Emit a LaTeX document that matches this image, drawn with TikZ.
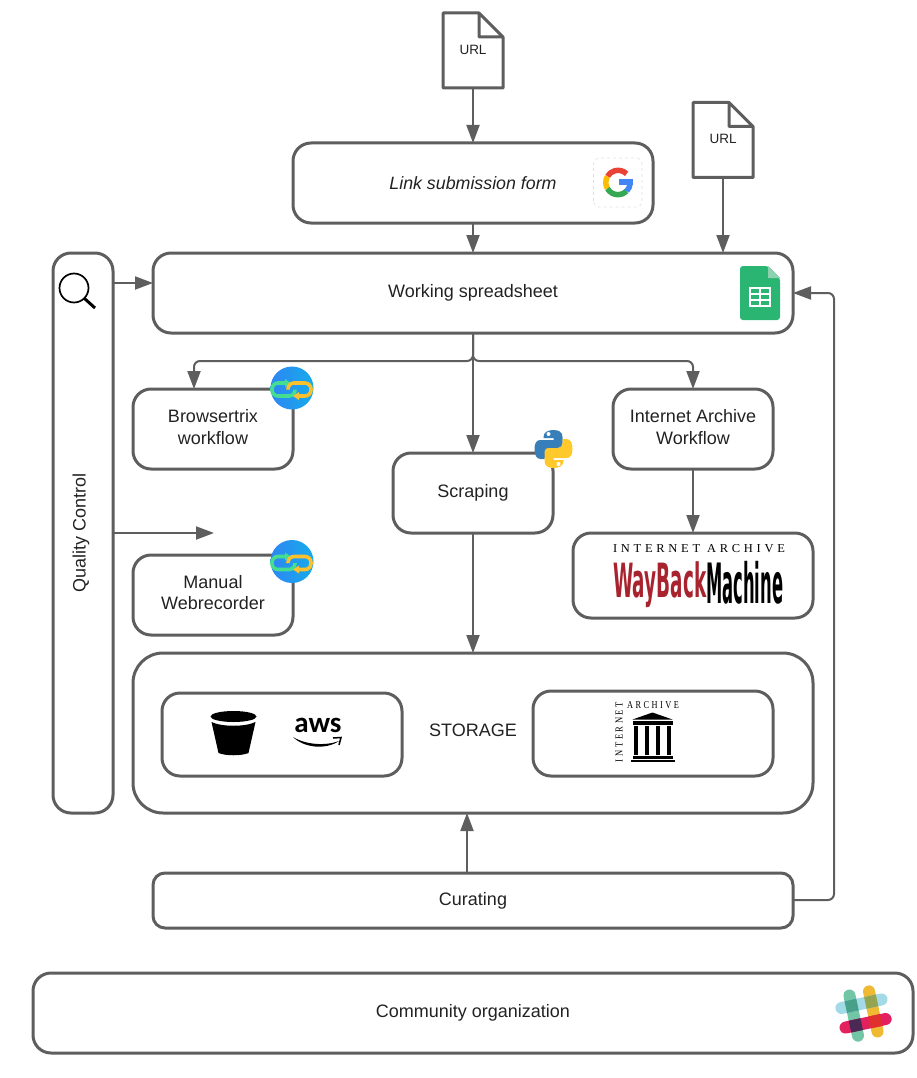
\documentclass[tikz,border=0pt]{standalone}
\usepackage{graphicx}
\usepackage{fontspec}
\setmainfont{Liberation Sans}
\newfontfamily\iafont[LetterSpace=30]{Liberation Serif}
\newfontfamily\logofont{DejaVu Sans}
\newfontfamily\awsfont{Carlito}
\usetikzlibrary{arrows.meta}

\definecolor{linegray}{HTML}{5E5E5E}
\definecolor{textgray}{HTML}{222222}
\definecolor{linkleft}{HTML}{2E86F3}
\definecolor{linkright}{HTML}{16ABEB}
\definecolor{linkgreen}{HTML}{45DD90}
\definecolor{linkyellow}{HTML}{FBC02D}
\definecolor{pyblue}{HTML}{387EB8}
\definecolor{pyyellow}{HTML}{FFC92C}
\definecolor{sheetgreen}{HTML}{2BB573}
\definecolor{sheetfold}{HTML}{8ED1B1}
\definecolor{waybackred}{HTML}{A8232E}
\definecolor{googlered}{HTML}{EA4335}
\definecolor{googleyellow}{HTML}{FBBC05}
\definecolor{googlegreen}{HTML}{34A853}
\definecolor{googleblue}{HTML}{4285F4}
\definecolor{slackgreen}{HTML}{72C5A5}
\definecolor{slackyellow}{HTML}{EFB934}
\definecolor{slackblue}{HTML}{A3DAE8}
\definecolor{slackred}{HTML}{E4215F}
\definecolor{slackteal}{HTML}{46A08A}
\definecolor{slackolive}{HTML}{93A550}
\definecolor{slackplum}{HTML}{4A2A55}
\definecolor{slackscarlet}{HTML}{E0302D}

\tikzset{
  box/.style={draw=linegray,line width=3pt,rounded corners=18pt,outer sep=0pt,inner sep=0pt,
    text=textgray,align=center,font=\fontsize{18}{22}\selectfont},
  boxsize/.style 2 args={minimum width=#1,minimum height=#2},
  label/.style={text=textgray,align=center,inner sep=0pt,font=\fontsize{18}{22}\selectfont},
  docbox/.style={minimum width=60pt,minimum height=75pt,outer sep=0pt,inner sep=0pt,
    text=textgray,font=\fontsize{13.5}{16}\selectfont},
  flow/.style={draw=linegray,line width=2pt,-{Triangle[length=18pt,width=13pt]}},
  linkicon/.pic={
    \begin{scope}[y=1pt]
      \shade[left color=linkleft,right color=linkright] (0,0) circle (21.5);
      \begin{scope}[yshift=-1.5pt]
        \draw[linkgreen,line width=3.6pt,rounded corners=6pt]
          (-6,6.5) -- (-20,6.5) -- (-20,-6.5) -- (3,-6.5) -- (3,0);
        \fill[linkgreen] (-7,10.5) -- (-1,6.5) -- (-7,2.5) -- cycle;
        \draw[linkyellow,line width=3.6pt,rounded corners=6pt]
          (6,-6.5) -- (19,-6.5) -- (19,6.5) -- (-4,6.5) -- (-4,0);
        \fill[linkyellow] (7,-10.5) -- (1,-6.5) -- (7,-2.5) -- cycle;
      \end{scope}
    \end{scope}
  },
  googleicon/.pic={
    \begin{scope}[y=1pt]
      \draw[gray!25,line width=.6pt,dashed,rounded corners=6pt] (-24.5,-24.5) rectangle (24,24.5);
      \draw[googlered,line width=5.5pt] (45:12.2) arc[start angle=45,end angle=150,radius=12.2];
      \draw[googleyellow,line width=5.5pt] (150:12.2) arc[start angle=150,end angle=210,radius=12.2];
      \draw[googlegreen,line width=5.5pt] (210:12.2) arc[start angle=210,end angle=315,radius=12.2];
      \draw[googleblue,line width=5.5pt] (315:12.2) arc[start angle=315,end angle=360,radius=12.2];
      \fill[googleblue] (.5,-2.5) rectangle (15,3);
    \end{scope}
  },
  sheeticon/.pic={
    \begin{scope}[y=1pt]
      \fill[sheetgreen,rounded corners=3pt] (-20,-27) -- (-20,27) -- (8,27) -- (20,15) -- (20,-27) -- cycle;
      \fill[sheetfold] (8,27) -- (20,15) -- (8,15) -- cycle;
      \fill[white] (-11,-14) rectangle (11,6);
      \foreach \rowy in {0,-6,-12}
        \foreach \colx in {-9,1.1}
          \fill[sheetgreen] (\colx,\rowy) rectangle ++(7.9,4);
    \end{scope}
  },
  pythonhalf/.pic={
    \fill (-10,12) .. controls (-10,17) and (-5,19) .. (0,19) .. controls (5,19) and (9,17) .. (9,12)
      -- (9,3) .. controls (9,0) and (7,-1) .. (5,-1) -- (-4,-1) .. controls (-7,-1) and (-9,-3) .. (-9,-6)
      -- (-9,-10) -- (-13,-10) .. controls (-17,-10) and (-19,-6) .. (-19,0)
      .. controls (-19,6) and (-17,9) .. (-13,9) -- (0,9) -- (0,11) -- (-10,11) -- cycle;
    \fill[white] (-5,15) circle (2);
  },
  pythonicon/.pic={
    \begin{scope}[y=1pt]
      \pic[pyblue] {pythonhalf};
      \pic[pyyellow,rotate=180] {pythonhalf};
    \end{scope}
  },
  slackicon/.pic={
    \begin{scope}[y=1pt,rotate=12,line width=12pt,line cap=round]
      \draw[color=slackgreen] (-10,-20.5) -- (-10,20.5);
      \draw[color=slackyellow] (10,-20.5) -- (10,20.5);
      \draw[color=slackblue] (-20.5,10) -- (20.5,10);
      \draw[color=slackred] (-20.5,-10) -- (20.5,-10);
      \fill[color=slackteal] (-16,4) rectangle (-4,16);
      \fill[color=slackolive] (4,4) rectangle (16,16);
      \fill[color=slackplum] (-16,-16) rectangle (-4,-4);
      \fill[color=slackscarlet] (4,-16) rectangle (16,-4);
    \end{scope}
  },
  bucketicon/.pic={
    \begin{scope}[y=1pt]
      \fill[black] (0,16.5) ellipse (23 and 5.5);
      \fill[black] (-22,11) .. controls (-12,6) and (12,6) .. (22,11)
        -- (15,-20) .. controls (8,-23) and (-8,-23) .. (-15,-20) -- cycle;
    \end{scope}
  },
  awsicon/.pic={
    \begin{scope}[y=1pt]
      \fill[black] (-25,-4) .. controls (-14,-15) and (8,-17) .. (21,-8)
        .. controls (8,-13) and (-12,-12) .. (-25,-4) -- cycle;
      \draw[black,line width=1.5pt] (15,-5) -- (23,-4.5) -- (21,-12);
    \end{scope}
  },
  templeicon/.pic={
    \begin{scope}[y=1pt]
      \fill[black] (-20,14) -- (0,21) -- (20,14) -- cycle;
      \fill[black] (-20,8.5) rectangle (20,13);
      \foreach \colx in {-16.5,-5.5,5.5,16.5}
        \fill[black] (\colx-2.3,-21) rectangle (\colx+2.3,8);
      \fill[black] (-20,-25) rectangle (20,-22);
      \fill[black] (-22,-28.5) rectangle (22,-26.5);
    \end{scope}
  }
}

\begin{document}
\begin{tikzpicture}[x=1pt,y=-1pt]
  \useasboundingbox (0,0) rectangle (916,1078);

  % boxes
  \node[docbox] (urlA) at (473,50.5) {\raisebox{1.5pt}{URL}};
  \node[docbox] (urlB) at (723,140) {\raisebox{2pt}{URL}};
  \node[box,boxsize={360pt}{80pt},font=\fontsize{17.8}{22}\selectfont\itshape] (form) at (473,183) {Link submission form};
  \node[box,boxsize={640pt}{80pt}] (sheet) at (473,293) {\raisebox{4pt}{Working spreadsheet}};
  \node[box,boxsize={60pt}{560pt}] (qc) at (83,533) {};
  \node[label,rotate=90] (qclabel) at (81,533) {Quality Control};
  \node[box,boxsize={160pt}{80pt}] (browser) at (213,429) {\raisebox{4pt}{\shortstack{Browsertrix\\[5pt]workflow}}};
  \node[box,boxsize={160pt}{80pt}] (scraping) at (473,493) {\raisebox{4pt}{Scraping}};
  \node[box,boxsize={160pt}{80pt}] (archive) at (693,429) {\raisebox{4pt}{\shortstack{Internet Archive\\[5pt]Workflow}}};
  \node[box,boxsize={240pt}{85pt}] (wayback) at (693,575.5) {};
  \node[box,boxsize={160pt}{80pt}] (manual) at (213,595) {\raisebox{5pt}{\shortstack{Manual\\[5pt]Webrecorder}}};
  \node[box,boxsize={680pt}{160pt},rounded corners=30pt] (storage) at (473,733) {};
  \node[box,boxsize={240pt}{83pt}] (amazon) at (282,734.5) {};
  \node[box,boxsize={240pt}{85pt}] (iabox) at (653,733.5) {};
  \node[label] (storagelabel) at (473,730.5) {STORAGE};
  \node[box,boxsize={640pt}{55pt},rounded corners=12pt] (curating) at (473,900.5) {\raisebox{3pt}{Curating}};
  \node[box,boxsize={880pt}{80pt}] (community) at (473,1013) {\raisebox{4pt}{Community organization}};

  % document outlines
  \foreach \docname in {urlA,urlB}
    \draw[draw=linegray,line width=3pt,line join=round]
      (\docname.north west) -- ++(36,0) -- ++(24,24) -- (\docname.south east)
      -- (\docname.south west) -- cycle
      (\docname.north west) ++(36,0) -- ++(0,24) -- ++(24,0);

  % connectors
  \coordinate (qcTop) at (113,283);
  \coordinate (qcMid) at (113,533);
  \coordinate (qcEnd) at (214,533);
  \coordinate (split) at (473,361);
  \coordinate (curveOut) at (834,900);
  \coordinate (curveIn) at (834,293);
  \coordinate (curatingUp) at (467,813);

  \foreach \from/\to in {urlA/form,form/sheet,sheet/scraping,scraping/storage,archive/wayback}
    \draw[flow] (\from.south) -- (\to.north);
  \draw[flow] (urlB.south) -- (sheet.north -| urlB.south);
  \draw[flow] (qc.east |- qcTop) -- (sheet.west |- qcTop);
  \draw[flow] (qc.east |- qcMid) -- (qcEnd);
  \draw[flow,rounded corners=6pt] (sheet.south) -- (split) -| ([xshift=-19pt]browser.north);
  \draw[flow,rounded corners=6pt] (sheet.south) -- (split) -| (archive.north);
  \draw[flow] (curating.north -| curatingUp) -- (curatingUp);
  \draw[flow,rounded corners=6pt] (curating.east |- curveOut) -- (curveOut) -- (curveIn) -- (sheet.east);

  % icons
  \draw[black,line width=1.7pt] (74,288) circle (14.5);
  \draw[black,line width=3pt] (84.5,298.5) -- (95,308);
  \pic at (618,182.5) {googleicon};
  \pic at (760,293) {sheeticon};
  \pic at (292,388) {linkicon};
  \pic at (292,561.5) {linkicon};
  \pic at (553.5,449) {pythonicon};
  \pic at (863.5,1013.5) {slackicon};
  \pic at (233.5,733) {bucketicon};
  \pic at (318,733) {awsicon};
  \pic at (652.5,733.5) {templeicon};

  % logo texts
  \node[inner sep=0pt] (awstext) at (318,725) {\fontsize{29}{29}\selectfont\awsfont\bfseries aws};
  \node[inner sep=0pt] (iatitle) at (699,549) {\resizebox{172pt}{8pt}{\iafont INTERNET ARCHIVE}};
  \node[inner sep=0pt,anchor=north west,text=waybackred] (waybackA) at (613,561) {\resizebox*{93pt}{46pt}{\logofont\bfseries WayBack}};
  \node[inner sep=0pt,anchor=north west] (waybackB) at (706,561) {\resizebox*{77pt}{43pt}{\logofont\bfseries Machine}};
  \node[inner sep=0pt] (iaside) at (653,705) {\resizebox{52pt}{7pt}{\iafont ARCHIVE}};
  \node[inner sep=0pt,rotate=90] (iarotated) at (619,732) {\resizebox{60pt}{7pt}{\iafont INTERNET}};
\end{tikzpicture}
\end{document}
